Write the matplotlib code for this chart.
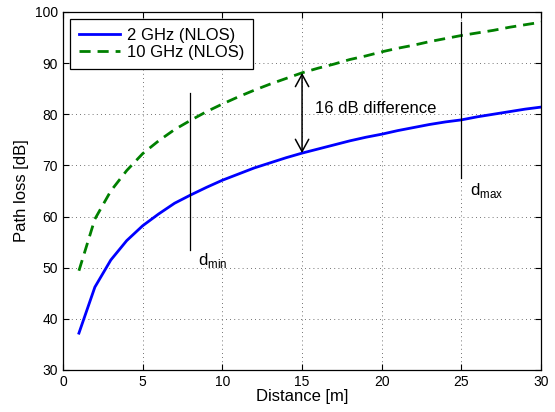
import matplotlib

matplotlib.use("Agg")
import matplotlib.pyplot as plt

plt.rcParams["font.family"] = ["Liberation Sans", "DejaVu Sans"]
plt.rcParams["mathtext.fontset"] = "custom"
plt.rcParams["mathtext.rm"] = "Liberation Sans"

# distance in metres, path loss in dB
distance = list(range(1, 31))
pl_2ghz = [37.2, 46.2, 51.5, 55.3, 58.2, 60.5, 62.6, 64.2, 65.7, 67.1,
           68.3, 69.5, 70.5, 71.5, 72.4, 73.2, 74.0, 74.8, 75.5, 76.1,
           76.8, 77.4, 78.0, 78.5, 78.9, 79.5, 80.0, 80.5, 81.0, 81.4]
pl_10ghz = [49.4, 59.5, 65.0, 69.0, 72.3, 74.8, 77.0, 78.8, 80.5, 82.0,
            83.4, 84.7, 85.9, 87.0, 88.1, 89.0, 89.8, 90.7, 91.4, 92.2,
            92.9, 93.5, 94.2, 94.8, 95.4, 95.9, 96.4, 97.0, 97.5, 98.0]

d_min, d_min_span = 8, (53.5, 84.2)
d_max, d_max_span = 25, (67.5, 98.0)
diff_at, diff_span = 15, (72.4, 88.1)

fig = plt.figure(figsize=(5.55, 4.12), dpi=100)
ax = fig.add_axes([0.1135, 0.102, 0.8615, 0.869])

ax.plot(distance, pl_2ghz, color="#0000ff", lw=2.0, label="2 GHz (NLOS)")
ax.plot(distance, pl_10ghz, color="#008000", lw=2.0, ls=(0, (4, 2.5)),
        label="10 GHz (NLOS)")

# d_min / d_max markers
ax.plot([d_min, d_min], d_min_span, color="black", lw=0.9)
ax.plot([d_max, d_max], d_max_span, color="black", lw=0.9)
ax.text(d_min + 0.45, 50.5, r"d$_{\rm min}$", fontsize=12)
ax.text(d_max + 0.55, 64.3, r"d$_{\rm max}$", fontsize=12)

ax.annotate("", xy=(diff_at, diff_span[1]), xytext=(diff_at, diff_span[0]),
            arrowprops=dict(arrowstyle="<->,head_length=0.55,head_width=0.3",
                            color="black", lw=1.1,
                            mutation_scale=16, shrinkA=0, shrinkB=0))
ax.text(diff_at + 0.8, 81.2, "16 dB difference", fontsize=12, va="center")

ax.set_xlim(0, 30)
ax.set_ylim(30, 100)
ax.set_xticks(range(0, 31, 5))
ax.set_yticks(range(30, 101, 10))
ax.set_xlabel("Distance [m]", fontsize=12, labelpad=0)
ax.set_ylabel("Path loss [dB]", fontsize=12, labelpad=4)
ax.tick_params(direction="in", top=True, right=True, labelsize=10, length=4)
ax.grid(True, ls=(0, (1, 4)), color="#444444", lw=0.6)
for s in ax.spines.values():
    s.set_linewidth(0.9)

leg = ax.legend(loc="upper left", fontsize=12, fancybox=False,
                framealpha=1, edgecolor="black", handlelength=2.5,
                handletextpad=0.4, borderaxespad=0.45, borderpad=0.5,
                labelspacing=0.15)
leg.get_frame().set_linewidth(0.9)

fig.savefig("out.png", dpi=100)
